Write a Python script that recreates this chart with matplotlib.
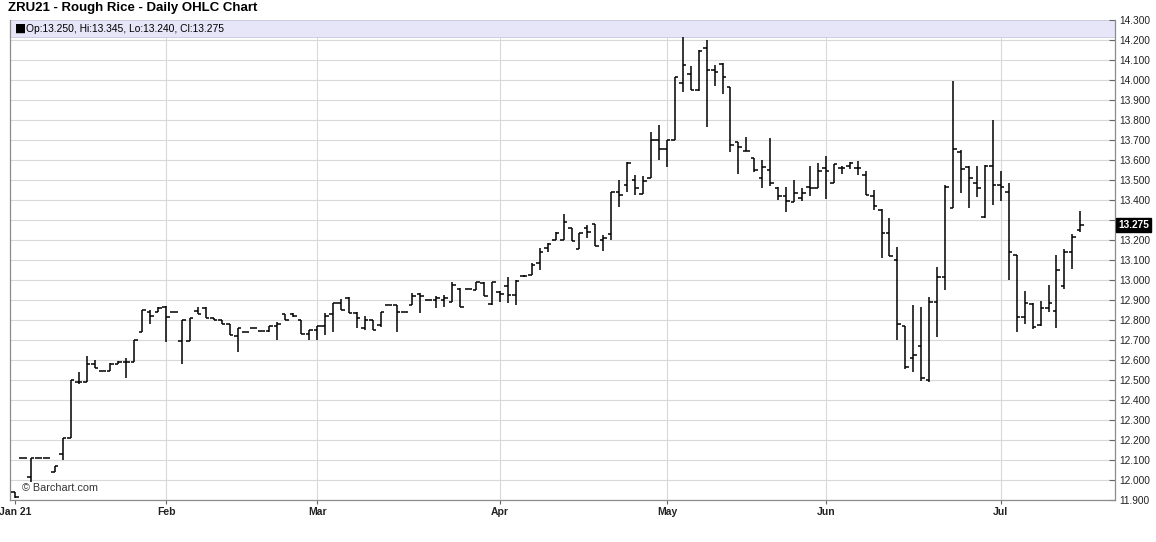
import numpy as np
import pandas as pd
import matplotlib
matplotlib.use("Agg")
import matplotlib.pyplot as plt
from matplotlib.collections import LineCollection
from matplotlib.patches import Rectangle

# ---------------- data ----------------
title = "ZRU21 - Rough Rice - Daily OHLC Chart"
header = "Op:13.250, Hi:13.345, Lo:13.240, Cl:13.275"
last_label = "13.275"
month_labels = ["Jan 21", "Feb", "Mar", "Apr", "May", "Jun", "Jul"]
holidays = ["2021-01-01", "2021-01-18", "2021-02-15", "2021-04-02",
            "2021-05-31", "2021-07-05"]
y_ticks = [11.9 + 0.1 * k for k in range(25)]

opens = [11.94, 12.11, 12.015, 12.11, 12.11, 12.04, 12.13, 12.21, 12.49, 12.49,
         12.58, 12.545, 12.545, 12.58, 12.59, 12.59, 12.74, 12.84, 12.84, 12.865,
         12.84, 12.695, 12.695, 12.845, 12.86, 12.81, 12.80, 12.78, 12.72, 12.74,
         12.76, 12.745, 12.745, 12.77, 12.83, 12.83, 12.80, 12.73, 12.75, 12.77,
         12.83, 12.887, 12.91, 12.835, 12.76, 12.80, 12.775, 12.875, 12.875, 12.84,
         12.875, 12.93, 12.90, 12.90, 12.90, 12.89, 12.955, 12.955, 12.95, 12.985,
         12.88, 12.94, 12.97, 12.925, 13.02, 13.025, 13.085, 13.16, 13.20, 13.20,
         13.26, 13.155, 13.26, 13.28, 13.20, 13.23, 13.44, 13.475, 13.50, 13.43,
         13.51, 13.70, 13.655, 13.70, 13.985, 14.03, 13.95, 14.16, 14.05, 14.08,
         13.965, 13.69, 13.645, 13.61, 13.51, 13.55, 13.46, 13.42, 13.39, 13.41,
         13.465, 13.46, 13.56, 13.485, 13.56, 13.57, 13.56, 13.525, 13.42, 13.35,
         13.235, 13.10, 12.77, 12.61, 12.67, 12.50, 12.89, 13.015, 13.36, 13.64,
         13.565, 13.485, 13.315, 13.57, 13.475, 13.44, 13.125, 12.815, 12.88, 12.775,
         12.86, 12.845, 12.97, 13.14, 13.25]
highs = [11.94, 12.11, 12.11, 12.11, 12.11, 12.07, 12.21, 12.50, 12.54, 12.62,
         12.60, 12.545, 12.585, 12.595, 12.61, 12.70, 12.85, 12.85, 12.865, 12.87,
         12.84, 12.80, 12.81, 12.865, 12.865, 12.81, 12.80, 12.78, 12.76, 12.74,
         12.76, 12.745, 12.77, 12.79, 12.83, 12.835, 12.80, 12.75, 12.77, 12.835,
         12.885, 12.905, 12.915, 12.84, 12.82, 12.80, 12.84, 12.875, 12.875, 12.84,
         12.935, 12.935, 12.90, 12.92, 12.925, 12.99, 12.96, 12.955, 12.99, 12.99,
         12.99, 12.945, 13.015, 13.00, 13.025, 13.085, 13.16, 13.185, 13.24, 13.33,
         13.26, 13.235, 13.275, 13.28, 13.225, 13.44, 13.50, 13.59, 13.525, 13.52,
         13.74, 13.775, 13.70, 14.015, 14.215, 14.07, 14.15, 14.20, 14.075, 14.085,
         13.965, 13.69, 13.715, 13.61, 13.60, 13.71, 13.467, 13.467, 13.50, 13.46,
         13.57, 13.585, 13.62, 13.58, 13.57, 13.59, 13.595, 13.545, 13.45, 13.355,
         13.31, 13.165, 12.77, 12.875, 12.865, 12.915, 13.065, 13.475, 13.995, 13.65,
         13.57, 13.57, 13.575, 13.80, 13.545, 13.485, 13.125, 12.945, 12.885, 12.895,
         12.975, 13.125, 13.155, 13.23, 13.345]
lows = [11.91, 12.11, 11.99, 12.11, 12.11, 12.04, 12.10, 12.21, 12.48, 12.49,
        12.56, 12.545, 12.545, 12.58, 12.51, 12.59, 12.74, 12.78, 12.84, 12.69,
        12.84, 12.58, 12.695, 12.83, 12.81, 12.80, 12.78, 12.725, 12.64, 12.74,
        12.76, 12.745, 12.74, 12.70, 12.80, 12.815, 12.73, 12.70, 12.70, 12.725,
        12.74, 12.85, 12.835, 12.76, 12.75, 12.75, 12.765, 12.875, 12.74, 12.84,
        12.875, 12.835, 12.90, 12.86, 12.865, 12.89, 12.865, 12.955, 12.95, 12.92,
        12.875, 12.89, 12.885, 12.875, 13.015, 13.025, 13.05, 13.14, 13.20, 13.20,
        13.195, 13.155, 13.21, 13.17, 13.145, 13.20, 13.365, 13.44, 13.425, 13.43,
        13.51, 13.60, 13.565, 13.70, 13.94, 13.95, 13.945, 13.765, 13.97, 13.93,
        13.64, 13.53, 13.645, 13.54, 13.46, 13.47, 13.40, 13.34, 13.39, 13.395,
        13.42, 13.46, 13.405, 13.485, 13.53, 13.555, 13.525, 13.425, 13.35, 13.11,
        13.12, 12.70, 12.555, 12.54, 12.495, 12.49, 12.715, 12.95, 13.36, 13.435,
        13.36, 13.415, 13.31, 13.375, 13.395, 13.00, 12.74, 12.78, 12.755, 12.77,
        12.84, 12.76, 12.955, 13.055, 13.24]
closes = [11.915, 12.11, 12.11, 12.11, 12.11, 12.07, 12.21, 12.50, 12.49, 12.58,
          12.56, 12.545, 12.58, 12.59, 12.59, 12.70, 12.85, 12.82, 12.86, 12.815,
          12.84, 12.80, 12.81, 12.83, 12.81, 12.80, 12.78, 12.725, 12.76, 12.74,
          12.76, 12.745, 12.77, 12.78, 12.80, 12.82, 12.73, 12.75, 12.77, 12.82,
          12.885, 12.85, 12.835, 12.81, 12.80, 12.75, 12.84, 12.875, 12.84, 12.84,
          12.92, 12.92, 12.90, 12.91, 12.91, 12.975, 12.865, 12.955, 12.99, 12.92,
          12.99, 12.93, 12.925, 12.995, 13.02, 13.075, 13.14, 13.18, 13.235, 13.29,
          13.195, 13.235, 13.24, 13.17, 13.21, 13.44, 13.425, 13.585, 13.46, 13.495,
          13.70, 13.655, 13.70, 14.015, 14.075, 13.95, 14.145, 14.05, 14.04, 14.015,
          13.675, 13.665, 13.645, 13.55, 13.565, 13.485, 13.42, 13.395, 13.435, 13.435,
          13.46, 13.545, 13.545, 13.58, 13.56, 13.585, 13.56, 13.425, 13.37, 13.235,
          13.12, 12.78, 12.565, 12.625, 12.51, 12.89, 13.015, 13.465, 13.655, 13.555,
          13.51, 13.46, 13.57, 13.475, 13.465, 13.14, 12.815, 12.885, 12.765, 12.86,
          12.885, 13.05, 13.14, 13.215, 13.275]

# ---------------- layout ----------------
W, H, DPI = 1156, 542, 100
plt.rcParams['font.family'] = ['Liberation Sans', 'DejaVu Sans']

dates = pd.bdate_range("2021-01-04", "2021-07-16", freq="C", holidays=holidays)
n = len(opens)
dates = dates[:n]
x = np.arange(n)
per = pd.Series(dates).dt.to_period("M")
month_idx = [int(np.where(per.values == p)[0][0]) for p in per.unique()]

fig = plt.figure(figsize=(W / DPI, H / DPI), dpi=DPI)
L, R, T, B = 10, 1115, 20, 500
ax = fig.add_axes([L / W, 1 - B / H, (R - L) / W, (B - T) / H])

ymin, ymax = 11.9, 14.3
ax.set_ylim(ymin, ymax)
px_per_day = 7.95
x0 = -(15 - L) / px_per_day
x1 = x0 + (R - L) / px_per_day
ax.set_xlim(x0, x1)

# grid
grid_c = "#d9d9d9"
for yv in y_ticks:
    ax.axhline(yv, color=grid_c, lw=0.8, zorder=0)
for mi in month_idx[1:]:
    ax.axvline(mi, color=grid_c, lw=0.8, zorder=0)

# header band
band_lo = 14.215
ax.add_patch(Rectangle((0, (band_lo - ymin) / (ymax - ymin)), 1,
                       1 - (band_lo - ymin) / (ymax - ymin),
                       transform=ax.transAxes, facecolor="#e6e6f8",
                       edgecolor="#c8c8e0", lw=0.6, zorder=1))
ax.text(5 / (R - L), 1 - 8.5 / (B - T), "\u25A0", transform=ax.transAxes,
        fontsize=8.5, va="center", ha="left", color="black",
        family=['DejaVu Sans'], zorder=3)
ax.text(15.5 / (R - L), 1 - 8.5 / (B - T), header, transform=ax.transAxes,
        fontsize=7.4, va="center", ha="left", color="black", zorder=3)

# OHLC bars
tick_w = 0.45
segs = []
for i in range(n):
    segs.append([(x[i], lows[i]), (x[i], highs[i])])
    segs.append([(x[i] - tick_w, opens[i]), (x[i], opens[i])])
    segs.append([(x[i], closes[i]), (x[i] + tick_w, closes[i])])
lc = LineCollection(segs, colors="black", linewidths=1.1, capstyle="butt",
                    zorder=4)
ax.add_collection(lc)

# axes styling
for s in ["left", "bottom", "right"]:
    ax.spines[s].set_color("#8c8c8c")
    ax.spines[s].set_linewidth(0.9)
ax.spines["top"].set_visible(False)

ax.yaxis.tick_right()
ax.set_yticks(y_ticks)
# the last-price tag sits where the 13.300 label would be, so that label is hidden
ylabels = [("" if abs(v - 13.3) < 1e-6 else f"{v:.3f}") for v in y_ticks]
ax.set_yticklabels(ylabels)
ax.tick_params(axis="y", direction="in", length=4, width=0.8, color="#666666",
               labelsize=7.3, labelcolor="#222222", pad=3)

ax.set_xticks(month_idx)
ax.set_xticklabels(month_labels)
ax.tick_params(axis="x", direction="out", length=3, width=0.8, color="#666666",
               labelsize=7.5, labelcolor="#222222", pad=2)
for lab in ax.get_xticklabels():
    lab.set_fontweight("bold")
    lab.set_fontstretch("condensed")

# last price tag
ax.text(1.0 + 3.5 / (R - L), closes[-1], last_label,
        transform=ax.get_yaxis_transform(), fontsize=7.3, fontweight="bold",
        color="white", va="center", ha="left",
        bbox=dict(boxstyle="square,pad=0.2", facecolor="black",
                  edgecolor="black"), zorder=6, clip_on=False)

# watermark
ax.text(12 / (R - L), 12 / (B - T), "\u00A9 Barchart.com",
        transform=ax.transAxes, fontsize=7.8, color="#333333",
        va="center", ha="left", zorder=3)

# title
fig.text(8 / W, 1 - 8 / H, title, fontsize=9.5, fontweight="bold",
         va="center", ha="left", color="black")

fig.savefig("out.png", dpi=DPI)
